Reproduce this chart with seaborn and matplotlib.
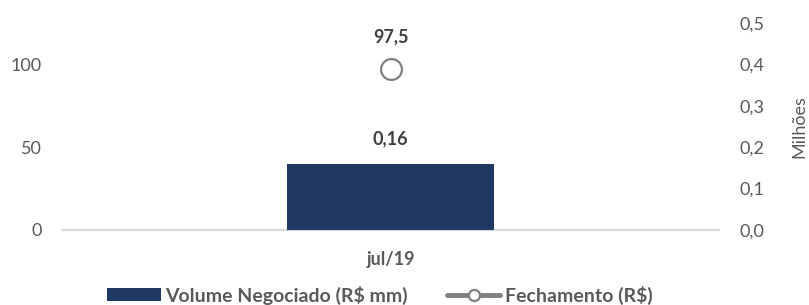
import matplotlib
matplotlib.use("Agg")
import matplotlib.pyplot as plt
import seaborn as sns
from matplotlib.ticker import FuncFormatter
from matplotlib.patches import Patch
from matplotlib.lines import Line2D

# ---- data ----
categories = ["jul/19"]
volume = [0.16]          # Volume Negociado (R$ mm) - right axis (Milhões)
fechamento = [97.5]      # Fechamento (R$) - left axis
left_ticks = [0, 50, 100]
right_ticks = [0.0, 0.1, 0.2, 0.3, 0.4, 0.5]

sns.set_theme(style="white")
plt.rcParams["font.family"] = ["Lato", "DejaVu Sans"]

TXT = "#595959"
LBL = "#404040"
BAR = "#1F3864"
GRAY = "#808080"

W, H = 809, 305
fig = plt.figure(figsize=(W / 100, H / 100), dpi=100)
ax = fig.add_axes([62 / W, 1 - 230 / H, 657 / W, 207 / H])
ax2 = ax.twinx()

# bar on secondary axis
sns.barplot(x=categories, y=volume, ax=ax2, color=BAR, width=0.315,
            saturation=1, edgecolor="none")
# closing price point on primary axis
sns.pointplot(x=categories, y=fechamento, ax=ax, color=GRAY,
              markers="o", markersize=15, markerfacecolor="white",
              markeredgecolor=GRAY, markeredgewidth=1.6, linestyles="-")

ax.set_xlim(-0.5, 0.5)
ax.set_ylim(0, 125)
ax.set_yticks(left_ticks)
ax2.set_ylim(0, 0.5)
ax2.set_yticks(right_ticks)
ax2.yaxis.set_major_formatter(FuncFormatter(lambda v, p: f"{v:.1f}".replace(".", ",")))

for a in (ax, ax2):
    for s in a.spines.values():
        s.set_visible(False)
    a.grid(False)
    a.set_xlabel("")
ax.spines["bottom"].set_visible(True)
ax.spines["bottom"].set_color("#D9D9D9")
ax.spines["bottom"].set_linewidth(1.5)

ax.tick_params(axis="y", length=0, pad=14.5, labelsize=13, labelcolor=TXT)
ax2.tick_params(axis="y", length=0, pad=14.5, labelsize=13, labelcolor=TXT)
ax.tick_params(axis="x", length=0, pad=15, labelsize=13, labelcolor=TXT)
for t in ax.get_xticklabels():
    t.set_fontweight("bold")
ax2.tick_params(axis="x", length=0, labelbottom=False)
ax.set_ylabel("")

ax2.set_ylabel("Milhões", fontsize=13, color=TXT, va="center", ha="center")
ax2.yaxis.set_label_coords((799 - 62) / 657, 0.5)

# data labels
ax2.bar_label(ax2.containers[0], labels=[f"{v:.2f}".replace(".", ",") for v in volume],
              padding=12, fontsize=13, fontweight="bold", color=LBL)
for i, v in enumerate(fechamento):
    ax.annotate(f"{v:.1f}".replace(".", ","), (i, v), xytext=(0, 23),
                textcoords="offset points", ha="center", va="center",
                fontsize=13, fontweight="bold", color=LBL)

handles = [
    Patch(facecolor=BAR, edgecolor="none", label="Volume Negociado (R$ mm)"),
    Line2D([], [], color=GRAY, lw=3.5, marker="o", markersize=8,
           markerfacecolor="white", markeredgecolor=GRAY, markeredgewidth=1.6,
           label="Fechamento (R$)"),
]
leg = fig.legend(handles=handles, loc="center", bbox_to_anchor=(380 / W, 1 - 295 / H),
                 ncol=2, frameon=False, fontsize=14, handlelength=2.75,
                 handleheight=0.65, handletextpad=0.25, columnspacing=2.0)
for t in leg.get_texts():
    t.set_fontweight("bold")
    t.set_color(TXT)

fig.savefig("out.png", dpi=100)
